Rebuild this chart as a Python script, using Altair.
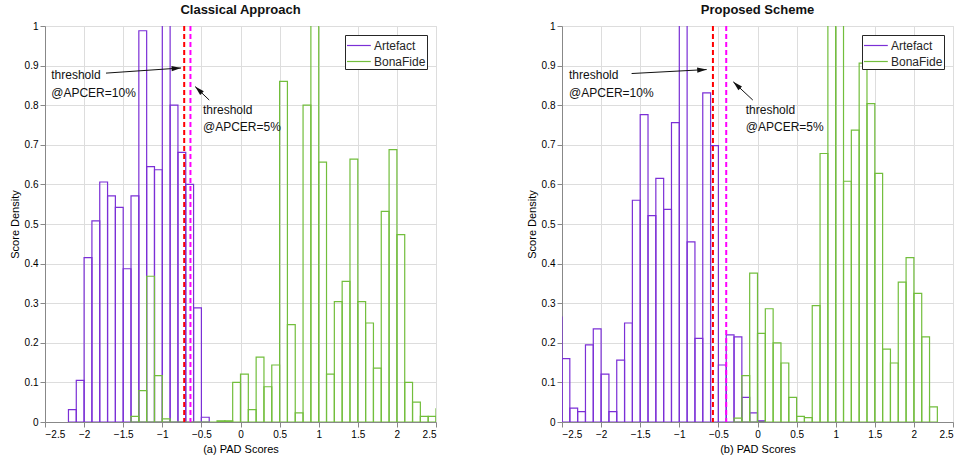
import math
import altair as alt
import pandas as pd

BIN_W = 0.1

# ---- Panel (a): Classical Approach ----
a_art_start = -2.2
a_art = [0.031, 0.105, 0.415, 0.508, 0.606, 0.571, 0.542, 0.387, 0.571, 0.988,
         0.645, 0.637, 1.10, 0.800, 0.681, 0.600, 0.288, 0.012]
a_bf_start = -1.4
a_bf = [0.014, 0.079, 0.368, 0.117, 0.008, 0, 0, 0, 0, 0, 0, 0.003, 0.003, 0.100,
        0.121, 0.031, 0.164, 0.089, 0.144, 0.860, 0.246, 0.023, 0.800, 1.10, 0.656,
        0.121, 0.304, 0.355, 0.664, 0.304, 0.250, 0.136, 0.532, 0.688, 0.473, 0.100,
        0.050, 0.014, 0.014, 0.033]
a_thr10 = -0.72
a_thr5 = -0.64

# ---- Panel (b): Proposed Scheme ----
b_art_start = -2.6
b_art = [0.265, 0.160, 0.035, 0.026, 0.195, 0.235, 0.121, 0.026, 0.156, 0.250,
         0.560, 0.776, 0.521, 0.615, 0.537, 0.756, 1.10, 0.455, 0.211, 0.831,
         0.698, 0.144, 0.220, 0.215, 0.062, 0.023, 0.003]
b_bf_start = -0.3
b_bf = [0.010, 0.117, 0.376, 0.224, 0.286, 0.200, 0.149, 0.062, 0.014, 0.011,
        0.294, 0.678, 1.10, 1.10, 0.608, 0.737, 0.906, 0.804, 0.628, 0.184,
        0.149, 0.353, 0.415, 0.325, 0.215, 0.038]
b_thr10 = -0.57
b_thr5 = -0.40

series_names = ["Artefact", "BonaFide"]
series_colors = ["#7B2FD6", "#72BE3C"]
thr_colors = ["#FF0000", "#FF00FF"]

# annotation anchors (data units)
a_text10 = (-2.42, 0.876)
a_text5 = (-0.48, 0.788)
a_arrow10 = (-1.72, 0.881, -0.76, 0.894)
a_arrow5 = (-0.40, 0.813, -0.58, 0.847)

b_text10 = (-2.41, 0.876)
b_text5 = (-0.15, 0.788)
b_arrow10 = (-1.61, 0.880, -0.65, 0.890)
b_arrow5 = (-0.06, 0.813, -0.31, 0.859)

W, H = 391, 396
PX_X = W / 5.0
PX_Y = H / 1.0
LINE_GAP = 0.044

x_ticks = [-2.5, -2, -1.5, -1, -0.5, 0, 0.5, 1, 1.5, 2, 2.5]
y_ticks = [0, 0.1, 0.2, 0.3, 0.4, 0.5, 0.6, 0.7, 0.8, 0.9, 1]


def bins(start, heights, name):
    rows = []
    for i, h in enumerate(heights):
        x0 = round(start + i * BIN_W, 3)
        rows.append({"x0": x0, "x1": round(x0 + BIN_W, 3), "h": h, "series": name})
    return pd.DataFrame(rows)


def panel(title, xtitle, art_start, art, bf_start, bf, thr10, thr5,
          text10, text5, arrow10, arrow5):
    xs = alt.Scale(domain=[-2.5, 2.5], nice=False, zero=False)
    ys = alt.Scale(domain=[0, 1], nice=False)
    xaxis = alt.Axis(values=x_ticks, title=xtitle, labelOverlap=False, titleFontWeight="normal",
                     labelExpr="datum.value == 0 ? '0' : format(datum.value, '.2~f')")
    yaxis = alt.Axis(values=y_ticks, title="Score Density", labelOverlap=False,
                     titleFontWeight="normal",
                     labelExpr="datum.value == 0 ? '0' : datum.value == 1 ? '1' : format(datum.value, '.1f')")
    color = alt.Color("series:N", scale=alt.Scale(domain=series_names, range=series_colors),
                      legend=alt.Legend(title=None, orient="top-right", offset=9,
                                        symbolType="M-1,0L1.8,0", symbolSize=289,
                                        symbolStrokeWidth=1.2, labelFontSize=12,
                                        labelFont="Liberation Sans", labelColor="#262626",
                                        strokeColor="#262626", fillColor="white",
                                        padding=1, rowPadding=0, cornerRadius=0,
                                        labelOffset=9))

    def hist(df):
        return alt.Chart(df).mark_rect(filled=False, strokeWidth=1.2, clip=True).encode(
            x=alt.X("x0:Q", scale=xs, axis=xaxis),
            x2="x1:Q",
            y=alt.Y("h:Q", scale=ys, axis=yaxis),
            y2=alt.datum(0),
            color=color,
        )

    art_layer = hist(bins(art_start, art, "Artefact"))
    bf_layer = hist(bins(bf_start, bf, "BonaFide"))

    thr_layers = []
    for v, c in zip([thr10, thr5], thr_colors):
        thr_layers.append(
            alt.Chart(pd.DataFrame({"x": [v]})).mark_rule(strokeWidth=2, strokeDash=[5, 3], color=c)
            .encode(x=alt.X("x:Q", scale=xs, axis=xaxis))
        )

    texts = pd.DataFrame({
        "x": [text10[0], text10[0], text5[0], text5[0]],
        "y": [text10[1], text10[1] - LINE_GAP, text5[1], text5[1] - LINE_GAP],
        "t": ["threshold", "@APCER=10%", "threshold", "@APCER=5%"],
    })
    text_layer = alt.Chart(texts).mark_text(align="left", baseline="middle", fontSize=12,
                                            font="Liberation Sans", color="#111111").encode(
        x=alt.X("x:Q", scale=xs, axis=xaxis), y=alt.Y("y:Q", scale=ys, axis=yaxis), text="t:N")

    arr = pd.DataFrame([arrow10, arrow5], columns=["xt", "yt", "xh", "yh"])
    arr["ang"] = [
        (math.degrees(math.atan2(-(r.yh - r.yt) * PX_Y, (r.xh - r.xt) * PX_X)) + 360) % 360
        for r in arr.itertuples()
    ]
    line_layer = alt.Chart(arr).mark_rule(strokeWidth=1, color="#111111").encode(
        x=alt.X("xt:Q", scale=xs, axis=xaxis), y=alt.Y("yt:Q", scale=ys, axis=yaxis),
        x2="xh:Q", y2="yh:Q")
    head_layer = alt.Chart(arr).mark_point(shape="M0,0L-2,-0.55L-2,0.55Z", filled=True,
                                           size=90, color="#111111", opacity=1).encode(
        x=alt.X("xh:Q", scale=xs, axis=xaxis), y=alt.Y("yh:Q", scale=ys, axis=yaxis),
        angle=alt.Angle("ang:Q", scale=None))

    return alt.layer(art_layer, bf_layer, *thr_layers, line_layer, head_layer, text_layer).properties(
        width=W, height=H,
        title=alt.TitleParams(title, fontSize=13, fontWeight="bold", font="Liberation Sans",
                              color="#111111", offset=4),
    )


left = panel("Classical Approach", "(a) PAD Scores", a_art_start, a_art, a_bf_start, a_bf,
             a_thr10, a_thr5, a_text10, a_text5, a_arrow10, a_arrow5)
right = panel("Proposed Scheme", "(b) PAD Scores", b_art_start, b_art, b_bf_start, b_bf,
              b_thr10, b_thr5, b_text10, b_text5, b_arrow10, b_arrow5)

chart = alt.hconcat(left, right, spacing=88).resolve_legend(color="independent").properties(
    padding={"left": 8, "top": 3, "right": 0, "bottom": 0}
).configure_view(stroke="#262626", strokeWidth=1).configure_axis(
    grid=True, gridColor="#E4E4E4", gridWidth=1, domainColor="#262626", ticks=False,
    labelOverlap=False, labelFlush=False,
    labelFont="Liberation Sans", labelFontSize=12.5, labelColor="#262626", labelPadding=6,
    titleFont="Liberation Sans", titleFontSize=13, titleFontWeight="normal",
    titleColor="#262626", titlePadding=3,
).configure_axisY(labelPadding=4).configure(background="white")

chart.save("out.html", embed_options={"renderer": "svg", "actions": False})
